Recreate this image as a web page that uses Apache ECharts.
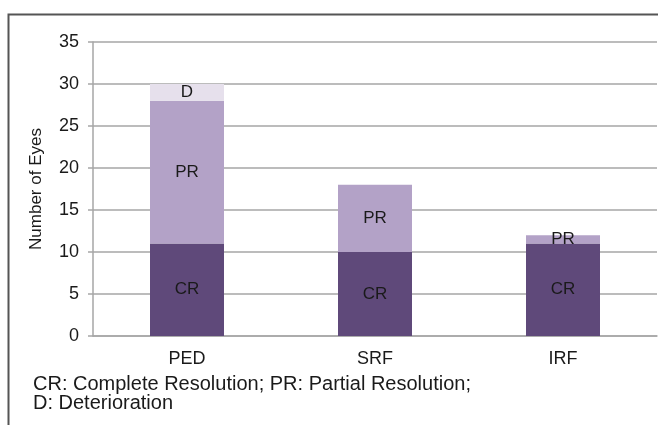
<!DOCTYPE html>
<html>
<head>
<meta charset="utf-8">
<script src="https://cdn.jsdelivr.net/npm/echarts@6/dist/echarts.min.js"></script>
<style>
  html, body { margin: 0; padding: 0; background: #fff; }
  #chart { width: 658px; height: 425px; }
</style>
</head>
<body>
<div id="chart"></div>
<script>
// categories and stacked counts
var categories = ['PED', 'SRF', 'IRF'];
var crData = [11, 10, 11];   // complete resolution
var prData = [17, 8, 1];     // partial resolution
var dData = [2, 0, 0];       // deterioration
var yTicks = [0, 5, 10, 15, 20, 25, 30, 35];

var FONT = 'Liberation Sans, Arial, sans-serif';
var chart = echarts.init(document.getElementById('chart'));

function segLabel(text) {
    return {
        show: true,
        position: 'inside',
        formatter: function (p) { return p.value > 0 ? text : ''; },
        color: '#1a1a1a',
        fontSize: 17,
        fontFamily: FONT
    };
}

var option = {
    animation: false,
    grid: { left: 93, right: 1, top: 42, bottom: 89 },
    xAxis: {
        type: 'category',
        data: categories,
        axisLine: { lineStyle: { color: '#a6a6a6', width: 1.5 } },
        axisTick: { show: false },
        axisLabel: { color: '#1a1a1a', fontSize: 18, margin: 14, fontFamily: FONT }
    },
    yAxis: {
        type: 'value',
        min: yTicks[0],
        max: yTicks[yTicks.length - 1],
        interval: 5,
        name: 'Number of Eyes',
        nameLocation: 'middle',
        nameGap: 48,
        nameTextStyle: { color: '#1a1a1a', fontSize: 17, fontFamily: FONT },
        axisLine: { show: true, lineStyle: { color: '#a6a6a6', width: 1.5 } },
        axisTick: { show: true, length: 5, lineStyle: { color: '#a6a6a6', width: 1.5 } },
        axisLabel: { color: '#1a1a1a', fontSize: 18, margin: 14, fontFamily: FONT },
        splitLine: { lineStyle: { color: '#a6a6a6', width: 1.5 } }
    },
    series: [
        {
            name: 'CR', type: 'bar', stack: 'eyes', data: crData,
            barWidth: 74,
            itemStyle: { color: '#5f497a' },
            label: segLabel('CR')
        },
        {
            name: 'PR', type: 'bar', stack: 'eyes', data: prData,
            itemStyle: { color: '#b3a2c7' },
            label: segLabel('PR')
        },
        {
            name: 'D', type: 'bar', stack: 'eyes', data: dData,
            itemStyle: { color: '#e6e0ec' },
            label: segLabel('D')
        }
    ],
    graphic: [
        // frame: left and top edges
        {
            type: 'polyline',
            shape: { points: [[8.5, 425], [8.5, 14.5], [658, 14.5]] },
            style: { stroke: '#555', lineWidth: 2, fill: null }
        },
        {
            type: 'text', left: 33, top: 374,
            style: {
                text: 'CR: Complete Resolution; PR: Partial Resolution;\nD: Deterioration',
                fill: '#1a1a1a',
                fontSize: 20,
                lineHeight: 19,
                fontFamily: FONT
            }
        }
    ]
};

chart.setOption(option);
</script>
</body>
</html>
